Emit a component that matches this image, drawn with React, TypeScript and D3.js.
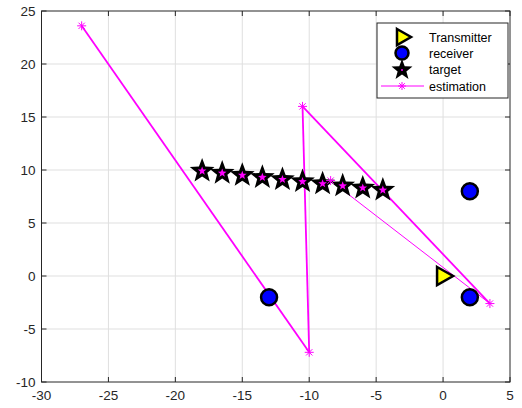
import React, { useEffect, useRef } from 'react';
import * as d3 from 'd3';

const xTicks = [-30, -25, -20, -15, -10, -5, 0, 5];
const yTicks = [-10, -5, 0, 5, 10, 15, 20, 25];

const transmitterX = [0];
const transmitterY = [0];
const receiverX = [-13, 2, 2];
const receiverY = [-2, 8, -2];
const targetX = [-18, -16.5, -15, -13.5, -12, -10.5, -9, -7.5, -6, -4.5];
const targetY = [10.0, 9.8, 9.6, 9.4, 9.2, 9.0, 8.8, 8.6, 8.4, 8.2];
const estX = [-27, -10, -10.5, 3.5, -8.4];
const estY = [23.6, -7.2, 16, -2.6, 9.0];

const legendLabels = ['Transmitter', 'receiver', 'target', 'estimation'];

const starPath = (r: number) => {
  const pts: string[] = [];
  for (let i = 0; i < 10; i++) {
    const a = -Math.PI / 2 + (i * Math.PI) / 5;
    const rr = i % 2 === 0 ? r : r * 0.42;
    pts.push(`${(rr * Math.cos(a)).toFixed(2)},${(rr * Math.sin(a)).toFixed(2)}`);
  }
  return 'M' + pts.join('L') + 'Z';
};

const asterisk = (g: any, x: number, y: number, s: number) => {
  const a = g.append('g').attr('transform', `translate(${x},${y})`)
    .attr('stroke', '#ff00ff').attr('stroke-width', 1);
  a.append('line').attr('x1', -s).attr('x2', s).attr('y1', 0).attr('y2', 0);
  a.append('line').attr('x1', 0).attr('x2', 0).attr('y1', -s).attr('y2', s);
  a.append('line').attr('x1', -s * 0.7).attr('x2', s * 0.7).attr('y1', -s * 0.7).attr('y2', s * 0.7);
  a.append('line').attr('x1', -s * 0.7).attr('x2', s * 0.7).attr('y1', s * 0.7).attr('y2', -s * 0.7);
};

const App = () => {
  const svgRef = useRef<SVGSVGElement>(null);

  useEffect(() => {
    const svg = d3.select(svgRef.current);
    svg.selectAll('*').remove();

    const left = 41.5, right = 510, top = 11, bottom = 382;
    const x = d3.scaleLinear().domain([-30, 5]).range([left, right]);
    const y = d3.scaleLinear().domain([-10, 25]).range([bottom, top]);
    const font = 'Helvetica, Arial, "Liberation Sans", sans-serif';

    svg.append('rect').attr('x', 0).attr('y', 0).attr('width', 522).attr('height', 408).attr('fill', '#fff');

    // grid
    const grid = svg.append('g').attr('stroke', '#dfdfdf').attr('stroke-width', 1);
    xTicks.slice(1, -1).forEach(t => {
      grid.append('line').attr('x1', x(t)).attr('x2', x(t)).attr('y1', top).attr('y2', bottom);
    });
    yTicks.slice(1, -1).forEach(t => {
      grid.append('line').attr('x1', left).attr('x2', right).attr('y1', y(t)).attr('y2', y(t));
    });

    // estimation line
    const est = estX.map((d, i) => [x(d), y(estY[i])]);
    const lineG = svg.append('g').attr('stroke', '#ff00ff').attr('fill', 'none');
    for (let i = 0; i < est.length - 1; i++) {
      lineG.append('line')
        .attr('x1', est[i][0]).attr('y1', est[i][1])
        .attr('x2', est[i + 1][0]).attr('y2', est[i + 1][1])
        .attr('stroke-width', i === est.length - 2 ? 1 : 1.8);
    }

    // targets
    targetX.forEach((d, i) => {
      const g = svg.append('g').attr('transform', `translate(${x(d)},${y(targetY[i]) + 1})`);
      g.append('path').attr('d', starPath(13)).attr('fill', '#000');
      g.append('path').attr('d', starPath(4.5)).attr('fill', '#ff00ff');
    });

    est.forEach(p => asterisk(svg, p[0], p[1], 4.5));

    // receivers
    receiverX.forEach((d, i) => {
      svg.append('circle').attr('cx', x(d)).attr('cy', y(receiverY[i])).attr('r', 8)
        .attr('fill', '#0000ff').attr('stroke', '#000').attr('stroke-width', 2.5);
    });

    // transmitter
    transmitterX.forEach((d, i) => {
      const cx = x(d), cy = y(transmitterY[i]);
      svg.append('path')
        .attr('d', `M${cx - 6},${cy - 9}L${cx + 10},${cy}L${cx - 6},${cy + 9}Z`)
        .attr('fill', '#ffff00').attr('stroke', '#000').attr('stroke-width', 2.5)
        .attr('stroke-linejoin', 'miter');
    });

    // axes box and ticks
    const ax = svg.append('g').attr('stroke', '#262626').attr('stroke-width', 1);
    ax.append('rect').attr('x', left).attr('y', top).attr('width', right - left).attr('height', bottom - top)
      .attr('fill', 'none');
    xTicks.forEach(t => {
      ax.append('line').attr('x1', x(t)).attr('x2', x(t)).attr('y1', bottom).attr('y2', bottom - 5);
      ax.append('line').attr('x1', x(t)).attr('x2', x(t)).attr('y1', top).attr('y2', top + 5);
    });
    yTicks.forEach(t => {
      ax.append('line').attr('x1', left).attr('x2', left + 5).attr('y1', y(t)).attr('y2', y(t));
      ax.append('line').attr('x1', right).attr('x2', right - 5).attr('y1', y(t)).attr('y2', y(t));
    });

    svg.append('g').selectAll('text').data(xTicks).enter().append('text')
      .attr('x', d => x(d)).attr('y', bottom + 18)
      .attr('text-anchor', 'middle').attr('font-family', font).attr('font-size', 13.5)
      .attr('fill', '#262626').text(d => d);
    svg.append('g').selectAll('text').data(yTicks).enter().append('text')
      .attr('x', left - 6).attr('y', d => y(d) + 5)
      .attr('text-anchor', 'end').attr('font-family', font).attr('font-size', 13.5)
      .attr('fill', '#262626').text(d => d);

    // legend
    const lg = svg.append('g');
    lg.append('rect').attr('x', 377).attr('y', 23).attr('width', 131).attr('height', 75)
      .attr('fill', '#fff').attr('stroke', '#262626').attr('stroke-width', 1);
    const rows = [37, 53, 69, 86];
    const mx = 402;
    lg.append('path')
      .attr('d', `M${mx - 5},${rows[0] - 8}L${mx + 9},${rows[0]}L${mx - 5},${rows[0] + 8}Z`)
      .attr('fill', '#ffff00').attr('stroke', '#000').attr('stroke-width', 2.5);
    lg.append('circle').attr('cx', mx).attr('cy', rows[1]).attr('r', 6.5)
      .attr('fill', '#0000ff').attr('stroke', '#000').attr('stroke-width', 2.5);
    lg.append('path').attr('d', starPath(11)).attr('transform', `translate(${mx},${rows[2] + 1})`).attr('fill', '#000');
    lg.append('circle').attr('cx', mx).attr('cy', rows[2] + 1).attr('r', 1).attr('fill', '#ff00ff');
    lg.append('line').attr('x1', 381).attr('x2', 424).attr('y1', rows[3]).attr('y2', rows[3])
      .attr('stroke', '#ff00ff').attr('stroke-width', 1);
    asterisk(lg, mx, rows[3], 4);
    lg.selectAll('text.lab').data(legendLabels).enter().append('text')
      .attr('x', 429).attr('y', (d, i) => rows[i] + 4.5)
      .attr('font-family', font).attr('font-size', 12.5).attr('fill', '#000').text(d => d);
  }, []);

  return (
    <div>
      <svg ref={svgRef} width={522} height={408} style={{ position: 'absolute', left: 0, top: 0 }}></svg>
    </div>
  );
};

export default App;
